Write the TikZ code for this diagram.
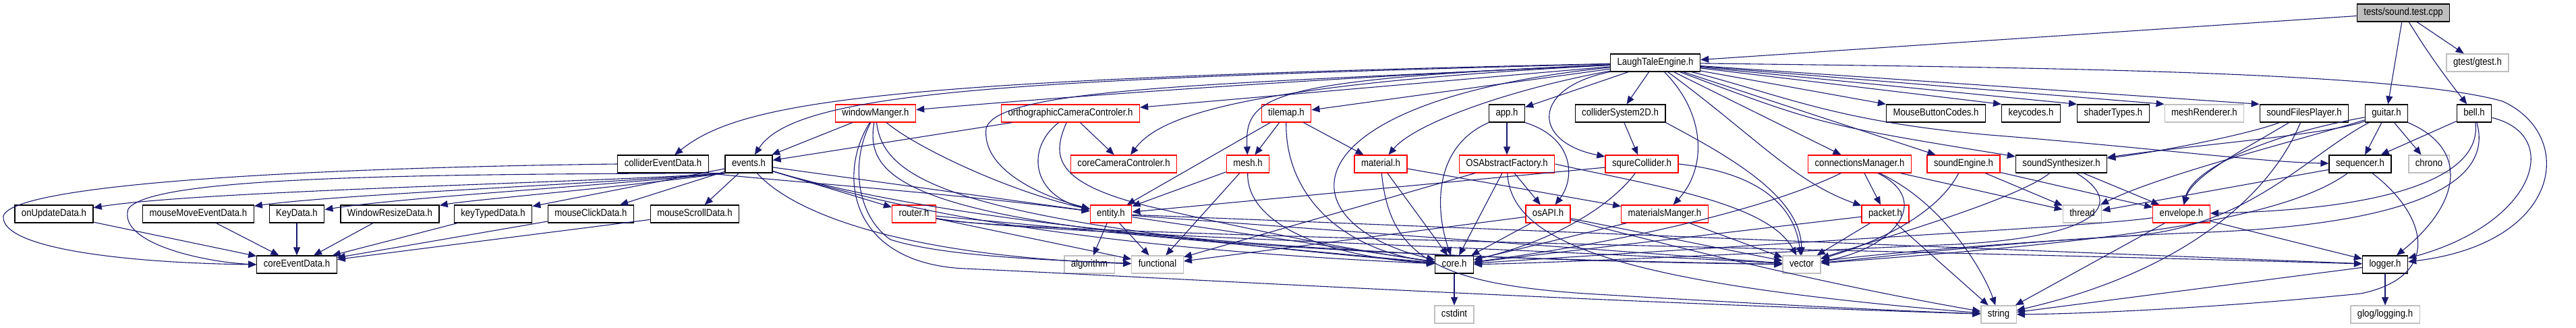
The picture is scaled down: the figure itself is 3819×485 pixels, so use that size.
\documentclass[tikz,border=0pt]{standalone}
\usepackage{fontspec}
\setmainfont{Liberation Sans}[FakeStretch=0.88]
\usetikzlibrary{arrows.meta}

\definecolor{edgeblue}{HTML}{191970}
\definecolor{extgray}{HTML}{BFBFBF}
\definecolor{truncred}{HTML}{FF0000}

\tikzset{
  >={Triangle[length=12pt,width=10pt]},
  hdr/.style={draw, line width=1.3pt, minimum height=26pt, inner xsep=10pt,
    inner ysep=2pt, text height=11pt, text depth=3.5pt,
    font=\fontsize{15}{18}\selectfont},
  doc/.style={hdr, draw=black},
  trunc/.style={hdr, draw=truncred},
  ext/.style={hdr, draw=extgray},
  root/.style={hdr, draw=black, fill=extgray},
  dep/.style={->, color=edgeblue, line width=1.1pt},
}

\begin{document}
\begin{tikzpicture}[x=1pt,y=-1pt]
  \useasboundingbox (0,0) rectangle (3819,485);

  % rank 0 and 1
  \node[root]  (tests) at (3563,19) {tests/sound.test.cpp};
  \node[doc]   (lte)   at (2454,93) {LaughTaleEngine.h};
  \node[ext]   (gtest) at (3673,93) {gtest/gtest.h};

  % rank 2
  \node[trunc] (winMgr)      at (1298,168) {windowManger.h};
  \node[trunc] (orthoCam)    at (1587,168) {orthographicCameraControler.h};
  \node[trunc] (tilemap)     at (1907,168) {tilemap.h};
  \node[doc]   (app)         at (2234,168) {app.h};
  \node[doc]   (collSys)     at (2402,168) {colliderSystem2D.h};
  \node[doc]   (mouseBtn)    at (2870,168) {MouseButtonCodes.h};
  \node[doc]   (keycodes)    at (3011,168) {keycodes.h};
  \node[doc]   (shaderTypes) at (3133,168) {shaderTypes.h};
  \node[ext]   (meshRend)    at (3268,168) {meshRenderer.h};
  \node[doc]   (sndFiles)    at (3416,168) {soundFilesPlayer.h};
  \node[doc]   (guitar)      at (3538,168) {guitar.h};
  \node[doc]   (bell)        at (3668,168) {bell.h};

  % rank 3
  \node[doc]   (collEvt)   at (983,243)  {colliderEventData.h};
  \node[doc]   (events)    at (1110,243) {events.h};
  \node[trunc] (coreCam)   at (1666,243) {coreCameraControler.h};
  \node[trunc] (mesh)      at (1850,243) {mesh.h};
  \node[trunc] (material)  at (2047,243) {material.h};
  \node[trunc] (osFactory) at (2234,243) {OSAbstractFactory.h};
  \node[trunc] (squreColl) at (2434,243) {squreCollider.h};
  \node[trunc] (connMgr)   at (2757,243) {connectionsManager.h};
  \node[trunc] (sndEngine) at (2911,243) {soundEngine.h};
  \node[doc]   (sndSynth)  at (3056,243) {soundSynthesizer.h};
  \node[doc]   (sequencer) at (3499,243) {sequencer.h};
  \node[ext]   (chrono)    at (3601,243) {chrono};

  % rank 4
  \node[doc]   (onUpdate)    at (80,317)   {onUpdateData.h};
  \node[doc]   (mouseMove)   at (294,317)  {mouseMoveEventData.h};
  \node[doc]   (keyData)     at (440,317)  {KeyData.h};
  \node[doc]   (winResize)   at (578,317)  {WindowResizeData.h};
  \node[doc]   (keyTyped)    at (731,317)  {keyTypedData.h};
  \node[doc]   (mouseClick)  at (876,317)  {mouseClickData.h};
  \node[doc]   (mouseScroll) at (1030,317) {mouseScrollData.h};
  \node[trunc] (router)      at (1355,317) {router.h};
  \node[trunc] (entity)      at (1647,317) {entity.h};
  \node[trunc] (osAPI)       at (2295,317) {osAPI.h};
  \node[trunc] (matMgr)      at (2468,317) {materialsManger.h};
  \node[trunc] (packet)      at (2795,317) {packet.h};
  \node[ext]   (thread)      at (3087,317) {thread};
  \node[trunc] (envelope)    at (3234,317) {envelope.h};

  % rank 5 and 6
  \node[doc] (coreEvt)    at (440,392)  {coreEventData.h};
  \node[ext] (algorithm)  at (1615,392) {algorithm};
  \node[ext] (functional) at (1716,392) {functional};
  \node[doc] (core)       at (2156,392) {core.h};
  \node[ext] (vector)     at (2671,392) {vector};
  \node[doc] (logger)     at (3536,392) {logger.h};
  \node[ext] (cstdint)    at (2156,466) {cstdint};
  \node[ext] (string)     at (2963,466) {string};
  \node[ext] (glog)       at (3536,466) {glog/logging.h};

  % straight includes
  \foreach \a/\b in {tests/lte, tests/gtest, tests/guitar, lte/orthoCam, lte/tilemap,
      lte/app, lte/collSys, lte/mouseBtn.north west, lte/keycodes.north west,
      lte/shaderTypes.north west, lte/meshRend.north west, lte/sndFiles.north west,
      lte/connMgr, lte/sndEngine, winMgr/events, orthoCam/events, orthoCam/coreCam,
      tilemap/mesh, tilemap/entity, tilemap/material, mesh/entity, mesh/functional,
      events/keyTyped, events/mouseClick, events/mouseScroll, events/router, events/entity,
      onUpdate/coreEvt, mouseMove/coreEvt, keyData/coreEvt, winResize/coreEvt,
      keyTyped/coreEvt, mouseClick/coreEvt, mouseScroll/coreEvt,
      entity/algorithm, entity/functional, entity/core, entity/vector, entity/logger,
      router/functional, router/core, app/osFactory, collSys/squreColl,
      material/core, material/matMgr, osFactory/osAPI, osFactory/core, osFactory/functional,
      squreColl/entity, osAPI/core, osAPI/vector, osAPI/functional, matMgr/core, matMgr/vector,
      connMgr/packet, connMgr/thread, sndEngine/thread, sndEngine/envelope, sndSynth/envelope,
      packet/vector, packet/string, packet/core, envelope/string, envelope/logger,
      sequencer/thread, guitar/sequencer, guitar/chrono, bell/sequencer,
      logger/string, logger/glog, core/cstdint}
    \draw[dep] (\a) -- (\b);

  % curved includes
  \draw[dep] (tests) .. controls (3600,80) and (3630,120) .. (bell);
  \draw[dep] (lte) .. controls (1900,118) and (1500,150) .. (winMgr);
  \draw[dep] (lte) .. controls (1500,118) and (1180,135) .. (events);
  \draw[dep] (lte) .. controls (1300,118) and (1100,150) .. (collEvt);
  \draw[dep] (lte) .. controls (1850,125) and (1720,170) .. (coreCam);
  \draw[dep] (lte) .. controls (1880,118) and (1845,140) .. (mesh);
  \draw[dep] (lte) .. controls (1800,125) and (1480,130) .. (1462,190)
    .. controls (1455,250) and (1540,290) .. (entity);
  \draw[dep] (lte) .. controls (2250,130) and (2100,180) .. (material);
  \draw[dep] (lte) .. controls (1900,150) and (1900,330) .. (core);
  \draw[dep] (lte) .. controls (2270,130) and (2270,210) .. (squreColl);
  \draw[dep] (lte) .. controls (2530,170) and (2530,250) .. (matMgr);
  \draw[dep] (lte) .. controls (2700,185) .. (sndSynth);
  \draw[dep] (lte) .. controls (2600,200) and (2660,270) .. (packet);
  \draw[dep] (lte) .. controls (2640,140) and (2720,180) .. (2950,200)
    .. controls (3200,220) and (3350,240) .. (sequencer);
  \draw[dep] (lte) .. controls (3000,100) and (3550,105) .. (3710,150)
    .. controls (3820,200) and (3800,360) .. (logger);

  \draw[dep] (winMgr) .. controls (1360,220) and (1500,285) .. (entity);
  \draw[dep] (winMgr) .. controls (1310,270) and (1420,330) .. (core);
  \draw[dep] (winMgr) .. controls (1260,240) and (1270,320) .. (1320,355)
    .. controls (1400,380) and (1550,385) .. (functional);
  \draw[dep] (winMgr) .. controls (1280,280) and (1350,370) .. (vector);
  \draw[dep] (winMgr) .. controls (1240,260) and (1260,390) .. (1430,398)
    .. controls (1700,410) and (2300,445) .. (string);
  \draw[dep] (orthoCam) .. controls (1520,220) and (1530,290) .. (entity);
  \draw[dep] (orthoCam) .. controls (1560,230) and (1560,270) .. (1700,305)
    .. controls (1850,340) and (2000,370) .. (core);
  \draw[dep] (tilemap) .. controls (1905,290) and (1990,370) .. (core);
  \draw[dep] (mesh) .. controls (1848,330) and (1960,380) .. (core);

  \draw[dep] (events.south west) .. controls (900,270) and (300,282) .. (onUpdate);
  \draw[dep] (events.south west) .. controls (900,272) and (500,288) .. (mouseMove);
  \draw[dep] (events.south west) .. controls (900,275) and (600,292) .. (keyData);
  \draw[dep] (events.south west) .. controls (900,280) and (700,296) .. (winResize);
  \draw[dep] (events.south west) .. controls (600,258) and (220,262) .. (190,310)
    .. controls (175,360) and (300,388) .. (coreEvt.west);
  \draw[dep] (collEvt.west) .. controls (500,248) and (20,270) .. (5,320)
    .. controls (0,370) and (200,390) .. (coreEvt.west);
  \draw[dep] (collEvt.south east) .. controls (1150,268) and (1400,285) .. (entity);
  \draw[dep] (events) .. controls (1300,300) and (1550,365) .. (core);
  \draw[dep] (events) .. controls (1180,320) and (1350,380) .. (functional);
  \draw[dep] (events) .. controls (1300,300) and (1700,380) .. (vector);
  \draw[dep] (router) .. controls (1500,345) and (2200,365) .. (vector);
  \draw[dep] (router) .. controls (1500,348) and (2800,370) .. (logger);

  \draw[dep] (app.south west) .. controls (2120,220) and (2130,320) .. (core);
  \draw[dep] (app.south east) .. controls (2335,205) and (2335,265) .. (osAPI);
  \draw[dep] (collSys.south east) .. controls (2560,230) and (2670,290) .. (vector);
  \draw[dep] (material) .. controls (2060,380) and (2130,420) .. (2350,435)
    .. controls (2600,450) and (2800,460) .. (string);
  \draw[dep] (osFactory) .. controls (2240,360) and (2400,420) .. (string);
  \draw[dep] (osFactory.east) .. controls (2450,275) and (2620,300) .. (vector);
  \draw[dep] (squreColl) .. controls (2400,290) and (2330,350) .. (core);
  \draw[dep] (squreColl.east) .. controls (2600,255) and (2660,300) .. (vector);
  \draw[dep] (osAPI) .. controls (2500,370) and (2700,420) .. (string);

  \draw[dep] (connMgr) .. controls (2880,300) and (2940,400) .. (string);
  \draw[dep] (connMgr) .. controls (2870,300) and (2800,370) .. (vector);
  \draw[dep] (connMgr) .. controls (2620,310) and (2400,360) .. (core);
  \draw[dep] (sndEngine) .. controls (2870,320) and (2780,360) .. (vector);
  \draw[dep] (sndSynth) .. controls (2990,295) and (2800,350) .. (vector);
  \draw[dep] (sndSynth) .. controls (3150,300) and (3120,350) .. (2900,362)
    .. controls (2600,375) and (2300,390) .. (core);
  \draw[dep] (envelope) .. controls (3100,335) and (2800,350) .. (core);

  \draw[dep] (sequencer) .. controls (3380,330) and (3100,360) .. (vector);
  \draw[dep] (sequencer) .. controls (3600,320) and (3620,410) .. (3500,435)
    .. controls (3300,455) and (3100,465) .. (string);
  \draw[dep] (guitar) .. controls (3660,220) and (3650,300) .. (logger);
  \draw[dep] (guitar) .. controls (3360,200) and (3250,250) .. (envelope);
  \draw[dep] (guitar) .. controls (3450,200) and (3250,215) .. (sndSynth);
  \draw[dep] (guitar) .. controls (3400,210) and (3200,260) .. (thread);
  \draw[dep] (guitar) .. controls (3420,230) and (3330,340) .. (3150,350)
    .. controls (2900,365) and (2750,380) .. (vector);
  \draw[dep] (bell) .. controls (3680,260) and (3550,310) .. (envelope);
  \draw[dep] (bell) .. controls (3700,280) and (3550,335) .. (3250,345)
    .. controls (3000,355) and (2800,380) .. (vector);
  \draw[dep] (bell) .. controls (3800,200) and (3760,330) .. (logger);
  \draw[dep] (sndFiles) .. controls (3330,220) and (3250,260) .. (envelope);
  \draw[dep] (sndFiles) .. controls (3330,200) and (3200,225) .. (sndSynth);
  \draw[dep] (sndFiles) .. controls (3370,280) and (3250,400) .. (string);
\end{tikzpicture}
\end{document}
